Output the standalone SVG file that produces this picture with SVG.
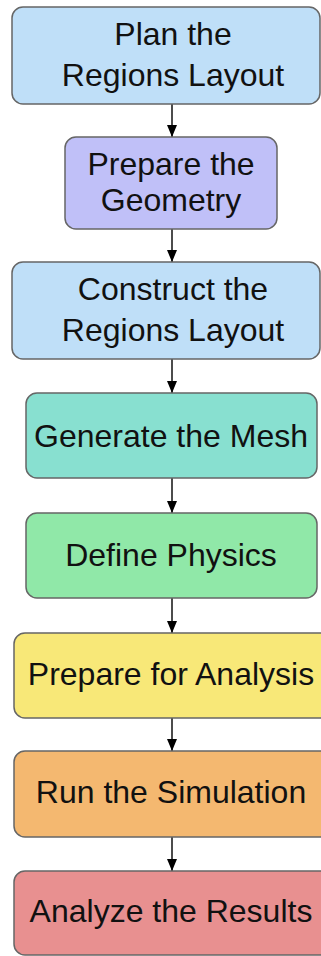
<svg xmlns="http://www.w3.org/2000/svg" width="321" height="956" viewBox="0 0 321 956">
<defs>
<marker id="ah" viewBox="0 0 12 10" refX="12" refY="5" markerWidth="12" markerHeight="10" markerUnits="userSpaceOnUse" orient="auto">
<path d="M0,0 L12,5 L0,10 Z" fill="#000"/>
</marker>
<style>
.box{stroke:#666;stroke-width:1.5}
.t{font-family:"Liberation Sans",Arial,sans-serif;font-size:32px;fill:#111;text-anchor:middle}
.c{stroke:#111;stroke-width:1.5;fill:none}
</style>
</defs>
<rect width="321" height="956" fill="#fff"/>
<g id="connectors">
<line class="c" x1="172" y1="104" x2="172" y2="137" marker-end="url(#ah)"/>
<line class="c" x1="172" y1="229" x2="172" y2="262" marker-end="url(#ah)"/>
<line class="c" x1="172" y1="359" x2="172" y2="393" marker-end="url(#ah)"/>
<line class="c" x1="172" y1="478" x2="172" y2="513" marker-end="url(#ah)"/>
<line class="c" x1="172" y1="598" x2="172" y2="633" marker-end="url(#ah)"/>
<line class="c" x1="172" y1="718" x2="172" y2="751" marker-end="url(#ah)"/>
<line class="c" x1="172" y1="837" x2="172" y2="871" marker-end="url(#ah)"/>
</g>
<g id="n1">
<rect class="box" x="12" y="7" width="308" height="97" rx="11" fill="#bfdff8"/>
<text class="t" x="173" y="45">Plan the</text>
<text class="t" x="173" y="86">Regions Layout</text>
</g>
<g id="n2">
<rect class="box" x="65" y="137" width="212" height="92" rx="11" fill="#c0c0f8"/>
<text class="t" x="171" y="175">Prepare the</text>
<text class="t" x="171" y="211">Geometry</text>
</g>
<g id="n3">
<rect class="box" x="12" y="262" width="308" height="97" rx="11" fill="#bfdff8"/>
<text class="t" x="173" y="300">Construct the</text>
<text class="t" x="173" y="341">Regions Layout</text>
</g>
<g id="n4">
<rect class="box" x="26" y="393" width="291" height="85" rx="11" fill="#88e0d0"/>
<text class="t" x="171" y="447">Generate the Mesh</text>
</g>
<g id="n5">
<rect class="box" x="26" y="513" width="291" height="85" rx="11" fill="#90e8a8"/>
<text class="t" x="171" y="566">Define Physics</text>
</g>
<g id="n6">
<rect class="box" x="14" y="633" width="320" height="85" rx="11" fill="#f8e878"/>
<text class="t" x="171" y="685">Prepare for Analysis</text>
</g>
<g id="n7">
<rect class="box" x="14" y="751" width="320" height="86" rx="11" fill="#f4b870"/>
<text class="t" x="171" y="803">Run the Simulation</text>
</g>
<g id="n8">
<rect class="box" x="14" y="871" width="320" height="84" rx="11" fill="#e89090"/>
<text class="t" x="171" y="922">Analyze the Results</text>
</g>
</svg>
